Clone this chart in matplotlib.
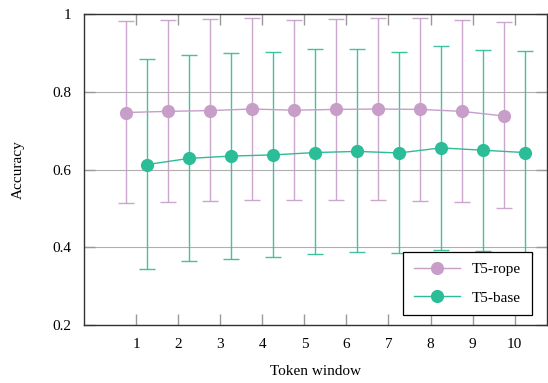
import matplotlib
matplotlib.use("Agg")
import matplotlib.pyplot as plt
import numpy as np

windows = [1, 2, 3, 4, 5, 6, 7, 8, 9, 10]

rope_mean = [0.747, 0.750, 0.752, 0.756, 0.753, 0.755, 0.756, 0.755, 0.750, 0.738]
rope_low = [0.515, 0.516, 0.519, 0.522, 0.522, 0.521, 0.523, 0.520, 0.516, 0.501]
rope_high = [0.982, 0.986, 0.988, 0.991, 0.985, 0.988, 0.991, 0.991, 0.985, 0.979]

base_mean = [0.613, 0.629, 0.635, 0.638, 0.644, 0.647, 0.643, 0.656, 0.650, 0.644]
base_low = [0.344, 0.364, 0.370, 0.376, 0.383, 0.387, 0.385, 0.394, 0.392, 0.382]
base_high = [0.885, 0.896, 0.901, 0.903, 0.910, 0.910, 0.903, 0.919, 0.908, 0.906]

rope_color = "#c69ec8"
base_color = "#2bbd97"

plt.rcParams["font.family"] = ["Liberation Serif", "DejaVu Serif"]
plt.rcParams["font.size"] = 11

fig = plt.figure(figsize=(5.48, 3.83), dpi=100)
ax = fig.add_axes([0.153, 0.151, 0.845, 0.812])

x = np.array(windows)


def draw(offset, mean, low, high, color, label):
    mean = np.array(mean)
    err = [mean - np.array(low), np.array(high) - mean]
    ax.errorbar(x + offset, mean, yerr=err, fmt="none", ecolor=color, elinewidth=1.0,
                capsize=6, capthick=1.0, zorder=3, alpha=0.9)
    ax.plot(x + offset, mean, color=color, lw=1.0, marker="o", markersize=9.5,
            markeredgewidth=0, label=label, zorder=4)


draw(-0.25, rope_mean, rope_low, rope_high, rope_color, "T5-rope")
draw(0.25, base_mean, base_low, base_high, base_color, "T5-base")

ax.set_xlim(-0.25, 10.77)
ax.set_ylim(0.2, 1.0)
ax.set_xticks(windows)
ax.set_yticks([0.2, 0.4, 0.6, 0.8, 1.0])
ax.set_yticklabels(["0.2", "0.4", "0.6", "0.8", "1"])
ax.grid(axis="y", color="#b0b0b0", lw=0.8)
ax.set_axisbelow(True)
ax.tick_params(direction="in", top=True, right=True, length=8, width=1, color="#999999", pad=9)
for s in ax.spines.values():
    s.set_color("#333333")
    s.set_linewidth(1)

ax.set_xlabel("Token window", labelpad=10)
ax.set_ylabel("Accuracy", labelpad=20)

leg = ax.legend(loc="lower right", fancybox=False, edgecolor="black", framealpha=1,
                handlelength=3.0, borderpad=0.7, labelspacing=0.95, borderaxespad=0,
                bbox_to_anchor=(0.9676, 0.032))
leg.get_frame().set_linewidth(0.9)

fig.savefig("out.png", dpi=100)
